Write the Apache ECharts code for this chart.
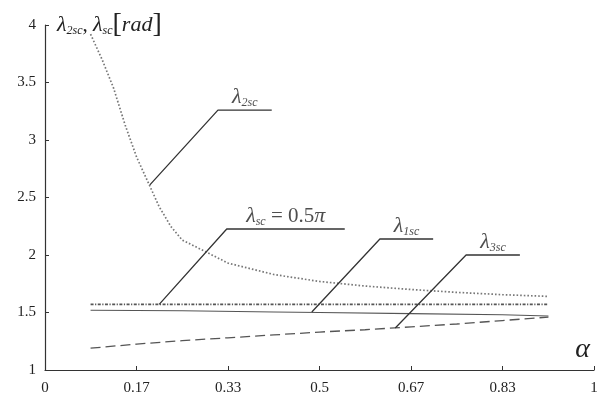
<!DOCTYPE html>
<html>
<head>
<meta charset="utf-8">
<script src="https://cdn.jsdelivr.net/npm/echarts@6/dist/echarts.min.js"></script>
<style>
html, body { margin: 0; padding: 0; background: #fff; }
#main { width: 611px; height: 401px; }
</style>
</head>
<body>
<div id="main"></div>
<script>
// tick labels
var xTickLabels = ['0', '0.17', '0.33', '0.5', '0.67', '0.83', '1'];
var yTicks = [1, 1.5, 2, 2.5, 3, 3.5, 4];

// curves [alpha, lambda]
var lambda2sc = [[0.083, 3.92], [0.104, 3.70], [0.125, 3.45], [0.146, 3.13], [0.167, 2.85],
    [0.188, 2.63], [0.208, 2.42], [0.229, 2.25], [0.25, 2.13], [0.292, 2.03], [0.333, 1.93],
    [0.417, 1.83], [0.5, 1.77], [0.583, 1.73], [0.667, 1.70], [0.75, 1.675], [0.833, 1.655], [0.917, 1.64]];
var lambdaSc = [[0.083, 1.5708], [0.917, 1.5708]];
var lambda1sc = [[0.083, 1.52], [0.25, 1.515], [0.417, 1.505], [0.5, 1.50], [0.667, 1.49],
    [0.833, 1.48], [0.917, 1.47]];
var lambda3sc = [[0.083, 1.19], [0.167, 1.225], [0.25, 1.255], [0.333, 1.28], [0.417, 1.305],
    [0.5, 1.33], [0.583, 1.35], [0.667, 1.375], [0.75, 1.40], [0.833, 1.43], [0.917, 1.46]];

// annotation leaders: start on curve, corner, end of shelf
var leader2sc = [[0.191, 2.61], [0.315, 3.26], [0.413, 3.26]];
var leaderSc = [[0.208, 1.5708], [0.331, 2.226], [0.546, 2.226]];
var leader1sc = [[0.486, 1.504], [0.610, 2.139], [0.707, 2.139]];
var leader3sc = [[0.638, 1.365], [0.767, 2.0], [0.865, 2.0]];
var leaderTexts = ['{l|λ}{s|2sc}', '{l|λ}{s|sc}{n| = 0.5}{l|π}', '{l|λ}{s|1sc}', '{l|λ}{s|3sc}'];

var serif = '"Liberation Serif", "DejaVu Serif", serif';
var richStyle = {
    l: { fontFamily: serif, fontStyle: 'italic', fontSize: 22, color: '#222' },
    s: { fontFamily: serif, fontStyle: 'italic', fontSize: 12, color: '#222', padding: [11, 0, 0, 0] },
    n: { fontFamily: serif, fontSize: 21, color: '#222' },
    b: { fontFamily: serif, fontSize: 28, color: '#222' },
    r: { fontFamily: serif, fontStyle: 'italic', fontSize: 22, color: '#222' }
};

var leaders = [leader2sc, leaderSc, leader1sc, leader3sc];
var labelPoints = leaders.map(function (p, i) {
    return {
        value: [(p[1][0] + p[2][0]) / 2, p[1][1]],
        label: { formatter: leaderTexts[i] }
    };
});

var myChart = echarts.init(document.getElementById('main'));
var series = [
    {
        name: 'lambda2sc', type: 'line', data: lambda2sc, symbol: 'none',
        lineStyle: { color: '#777', width: 1.7, type: [1.6, 2] }
    },
    {
        name: 'lambdaSc', type: 'line', data: lambdaSc, symbol: 'none',
        lineStyle: { color: '#555', width: 1.7, type: [3, 1.5, 1.2, 1.5] }
    },
    {
        name: 'lambda1sc', type: 'line', data: lambda1sc, symbol: 'none',
        lineStyle: { color: '#555', width: 1.1 }
    },
    {
        name: 'lambda3sc', type: 'line', data: lambda3sc, symbol: 'none',
        lineStyle: { color: '#555', width: 1.3, type: [10, 5] }
    }
];
leaders.forEach(function (p, i) {
    series.push({
        name: 'leader' + i, type: 'line', data: p, symbol: 'none',
        lineStyle: { color: '#333', width: 1.3 }
    });
});
series.push({
    name: 'labels', type: 'scatter', data: labelPoints, symbolSize: 0,
    label: { show: true, position: 'top', distance: 1, rich: richStyle }
});

var option = {
    backgroundColor: '#fff',
    animation: false,
    grid: { left: 45, right: 17, top: 25, bottom: 31 },
    xAxis: {
        type: 'value', min: 0, max: 1, interval: 1 / 6,
        name: '{r|α}',
        nameLocation: 'end', nameGap: 0,
        nameTextStyle: { align: 'right', verticalAlign: 'bottom', padding: [0, 4, 6, 0],
            rich: { r: { fontFamily: serif, fontStyle: 'italic', fontSize: 28, color: '#222' } } },
        axisLine: { lineStyle: { color: '#333', width: 1.2 } },
        axisTick: { inside: true, length: 4, lineStyle: { color: '#333' } },
        axisLabel: {
            margin: 11, fontFamily: serif, fontSize: 15, color: '#222',
            formatter: function (v) { return xTickLabels[Math.round(v * 6)]; }
        },
        splitLine: { show: false }
    },
    yAxis: {
        type: 'value', min: yTicks[0], max: yTicks[yTicks.length - 1], interval: 0.5,
        name: '{l|λ}{s|2sc}{n|, }{l|λ}{s|sc}{b|[}{r|rad}{b|]}',
        nameLocation: 'end', nameGap: 0,
        nameTextStyle: { align: 'left', verticalAlign: 'middle', padding: [0, 0, 0, 12], rich: richStyle },
        axisLine: { lineStyle: { color: '#333', width: 1.2 } },
        axisTick: { inside: true, length: 4, lineStyle: { color: '#333' } },
        axisLabel: { margin: 9, fontFamily: serif, fontSize: 15, color: '#222' },
        splitLine: { show: false }
    },
    series: series
};
myChart.setOption(option);
</script>
</body>
</html>
